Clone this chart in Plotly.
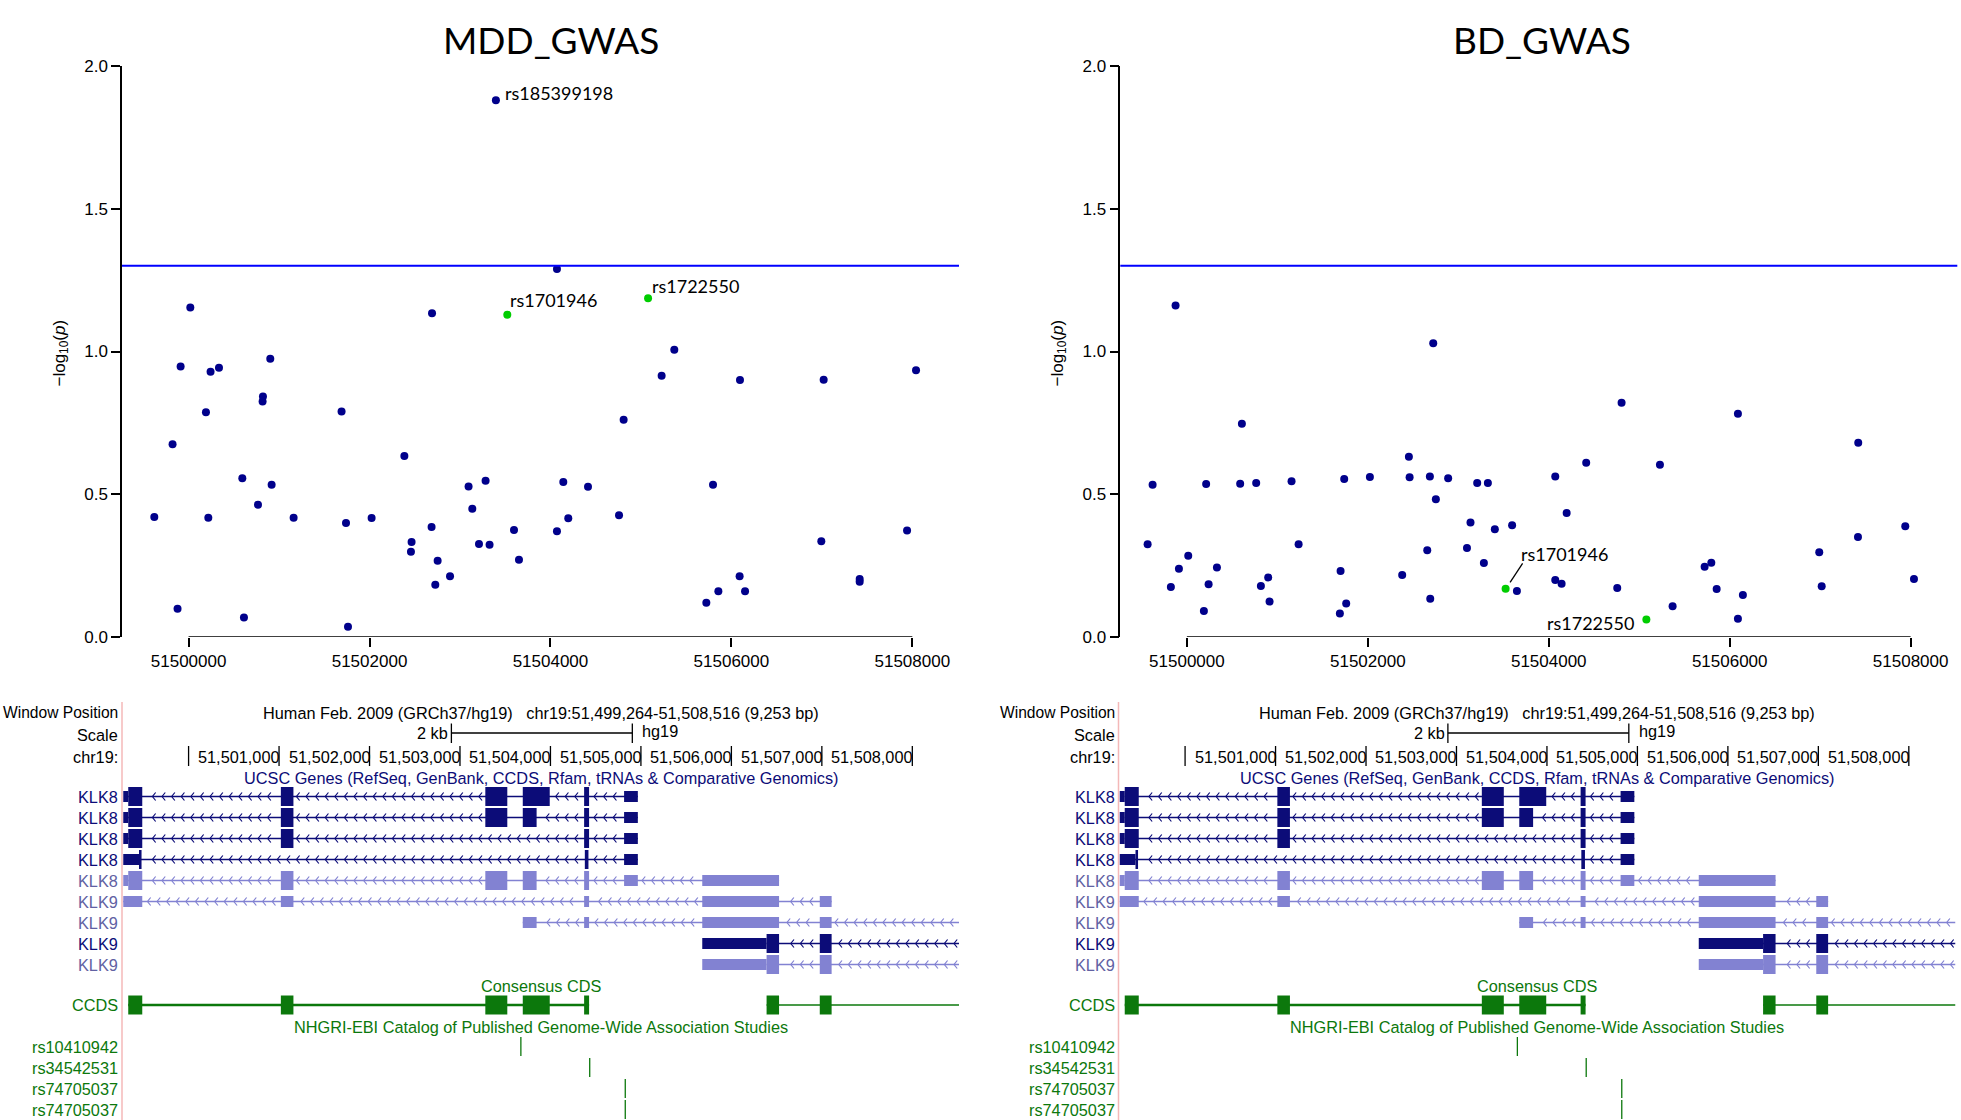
import plotly.graph_objects as go

W, H = 1961, 1120

# ---------------- association data ----------------
window = [51499264, 51508516]
x_ticks = [51500000, 51502000, 51504000, 51506000, 51508000]
y_ticks = [0.0, 0.5, 1.0, 1.5, 2.0]
y_tick_text = ["0.0", "0.5", "1.0", "1.5", "2.0"]
threshold = 1.301  # -log10(0.05)

mdd_pos = [51499621, 51499823, 51499878, 51499912, 51500019, 51500192, 51500218, 51500243, 51500336, 51500594,
           51500612, 51500767, 51500818, 51500822, 51500903, 51500918, 51501161, 51501691, 51501740, 51501762,
           51502023, 51502385, 51502458, 51502465, 51502686, 51502691, 51502727, 51502753, 51502890, 51503095,
           51503136, 51503210, 51503283, 51503327, 51503397, 51503597, 51503652, 51504072, 51504072, 51504142,
           51504197, 51504415, 51504758, 51504809, 51505229, 51505369, 51505723, 51505797, 51505856, 51506091,
           51506095, 51506151, 51506994, 51507020, 51507418, 51507418, 51507942, 51508041]
mdd_logp = [0.420, 0.675, 0.098, 0.947, 1.154, 0.787, 0.417, 0.929, 0.943, 0.556,
            0.067, 0.463, 0.825, 0.842, 0.975, 0.533, 0.417, 0.790, 0.399, 0.035,
            0.416, 0.634, 0.298, 0.332, 0.385, 1.134, 0.182, 0.266, 0.212, 0.527,
            0.449, 0.325, 0.547, 0.322, 1.881, 0.374, 0.270, 1.289, 0.370, 0.542,
            0.415, 0.526, 0.426, 0.761, 0.915, 1.006, 0.119, 0.533, 0.159, 0.212,
            0.900, 0.159, 0.335, 0.901, 0.202, 0.193, 0.372, 0.934]

bd_pos = [51499566, 51499621, 51499823, 51499875, 51499912, 51500015, 51500188, 51500213, 51500240, 51500332,
          51500589, 51500608, 51500766, 51500818, 51500899, 51500914, 51501157, 51501235, 51501691, 51501699,
          51501739, 51501761, 51502023, 51502380, 51502454, 51502462, 51502657, 51502686, 51502690, 51502723,
          51502752, 51502888, 51503096, 51503135, 51503209, 51503283, 51503327, 51503404, 51503595, 51503648,
          51504072, 51504072, 51504142, 51504198, 51504414, 51504757, 51504805, 51505229, 51505369, 51505723,
          51505797, 51505856, 51506091, 51506091, 51506146, 51506990, 51507017, 51507418, 51507421, 51507941,
          51508037]
bd_logp = [0.324, 0.533, 0.174, 1.161, 0.238, 0.284, 0.090, 0.535, 0.184, 0.243,
           0.536, 0.747, 0.539, 0.178, 0.208, 0.123, 0.545, 0.324, 0.081, 0.230,
           0.553, 0.116, 0.560, 0.216, 0.631, 0.559, 0.303, 0.562, 0.133, 1.029,
           0.482, 0.556, 0.311, 0.400, 0.539, 0.258, 0.539, 0.377, 0.391, 0.160,
           0.562, 0.199, 0.186, 0.434, 0.610, 0.171, 0.820, 0.603, 0.107, 0.245,
           0.259, 0.167, 0.782, 0.063, 0.146, 0.296, 0.177, 0.350, 0.680, 0.387,
           0.202]

hl_names = ["rs1701946", "rs1722550"]
hl_pos = [51503523, 51505079]
mdd_hl_logp = [1.129, 1.187]
bd_hl_logp = [0.168, 0.060]

top_name = "rs185399198"
top_pos = 51503397
top_logp = 1.881

# ---------------- genome browser data ----------------
ruler_ticks = [51500000, 51501000, 51502000, 51503000, 51504000, 51505000, 51506000, 51507000, 51508000]
ruler_labels = ["", "51,501,000", "51,502,000", "51,503,000", "51,504,000", "51,505,000",
                "51,506,000", "51,507,000", "51,508,000"]
scale_bar = [51502905, 51504905]

# (label, shade, line start, line end, exons (start, end, kind C=coding/U=utr))
transcripts = [
    ("KLK8", "dark", 51499333, 51504966,
     [(51499278, 51499333, "U"), (51499333, 51499488, "C"), (51501020, 51501159, "C"), (51503280, 51503523, "C"),
      (51503694, 51503992, "C"), (51504372, 51504427, "C"), (51504814, 51504966, "U")]),
    ("KLK8", "dark", 51499333, 51504966,
     [(51499278, 51499333, "U"), (51499333, 51499488, "C"), (51501020, 51501159, "C"), (51503280, 51503523, "C"),
      (51503694, 51503847, "C"), (51504372, 51504427, "C"), (51504814, 51504966, "U")]),
    ("KLK8", "dark", 51499333, 51504966,
     [(51499278, 51499333, "U"), (51499333, 51499488, "C"), (51501020, 51501159, "C"),
      (51504372, 51504427, "C"), (51504814, 51504966, "U")]),
    ("KLK8", "dark", 51499333, 51504966,
     [(51499278, 51499452, "U"), (51499452, 51499480, "C"), (51504380, 51504420, "C"), (51504814, 51504966, "U")]),
    ("KLK8", "light", 51499333, 51506527,
     [(51499278, 51499333, "U"), (51499333, 51499488, "C"), (51501020, 51501159, "C"), (51503280, 51503523, "C"),
      (51503694, 51503847, "C"), (51504372, 51504427, "C"), (51504814, 51504966, "U"), (51505678, 51506527, "U")]),
    ("KLK9", "light", 51499278, 51507108,
     [(51499278, 51499488, "U"), (51501020, 51501159, "U"), (51504372, 51504427, "U"),
      (51505678, 51506527, "U"), (51506977, 51507108, "U")]),
    ("KLK9", "light", 51503694, 51508516,
     [(51503694, 51503847, "U"), (51504372, 51504427, "U"), (51505678, 51506527, "U"), (51506977, 51507108, "U")]),
    ("KLK9", "dark", 51506389, 51508516,
     [(51505678, 51506389, "U"), (51506389, 51506527, "C"), (51506977, 51507108, "C")]),
    ("KLK9", "light", 51506389, 51508516,
     [(51505678, 51506389, "U"), (51506389, 51506527, "C"), (51506977, 51507108, "C")]),
]
ccds_lines = [(51499333, 51504427, 2.6), (51506389, 51508516, 1.4)]
ccds_exons = [(51499333, 51499488), (51501020, 51501159), (51503280, 51503523), (51503694, 51503992),
              (51504372, 51504427), (51506389, 51506527), (51506977, 51507108)]
gwas_names = ["rs10410942", "rs34542531", "rs74705037", "rs74705037"]
gwas_pos = [51503673, 51504434, 51504827, 51504827]

# ---------------- styling ----------------
NAVY = "#00008B"
GREEN = "#00CD00"
GENE_DARK = "#0c0c78"
GENE_LIGHT = "#8282d2"
LABEL_LIGHT = "#6161a3"
CCDS_GREEN = "#0c780c"
TICKFONT = dict(family="Liberation Sans, Arial, sans-serif", size=17, color="black")
BFONT = "Liberation Sans, Arial, sans-serif"
LFONT = "Lato, Open Sans, sans-serif"
BSIZE = 16.3


def px(xp):
    return xp / W


def py(yp):
    return 1 - yp / H


fig = go.Figure()
shapes = []
annotations = []

panels = [
    dict(name="MDD_GWAS", xa="x", ya="y", left=122.0, right=959.0, pos=mdd_pos, val=mdd_logp,
         hl=mdd_hl_logp, title_x=551, ylab_x=60, bxa="x3", bya="y3", bleft=122.0),
    dict(name="BD_GWAS", xa="x2", ya="y2", left=1120.3, right=1957.3, pos=bd_pos, val=bd_logp,
         hl=bd_hl_logp, title_x=1542, ylab_x=1058, bxa="x4", bya="y4", bleft=1118.5),
]

layout_axes = {}
for i, p in enumerate(panels):
    xa, ya = p["xa"], p["ya"]
    xkey = "xaxis" if xa == "x" else "xaxis" + xa[1:]
    ykey = "yaxis" if ya == "y" else "yaxis" + ya[1:]
    layout_axes[xkey] = dict(domain=[px(p["left"]), px(p["right"])], range=window, anchor=ya,
                             showline=False, showgrid=False, zeroline=False, ticks="outside",
                             ticklen=9, tickwidth=1.5, tickcolor="black", tickvals=x_ticks,
                             ticktext=[str(t) for t in x_ticks], tickfont=TICKFONT, fixedrange=True,
                             automargin=False)
    layout_axes[ykey] = dict(domain=[py(636.7), py(66.3)], range=[0, 2], anchor=xa,
                             showline=True, linecolor="black", linewidth=1.5, showgrid=False,
                             zeroline=False, ticks="outside", ticklen=9, tickwidth=1.5, tickcolor="black",
                             tickvals=y_ticks, ticktext=y_tick_text, tickfont=TICKFONT, fixedrange=True,
                             automargin=False)

    fig.add_trace(go.Scatter(x=p["pos"], y=p["val"], mode="markers", xaxis=xa, yaxis=ya,
                             marker=dict(size=8, color=NAVY), hoverinfo="skip", showlegend=False,
                             cliponaxis=False))
    fig.add_trace(go.Scatter(x=hl_pos, y=p["hl"], mode="markers", xaxis=xa, yaxis=ya,
                             marker=dict(size=8, color=GREEN), hoverinfo="skip", showlegend=False,
                             cliponaxis=False))

    # threshold line
    shapes.append(dict(type="line", xref=xa + " domain", yref=ya, x0=0, x1=1, y0=threshold, y1=threshold,
                       line=dict(color="#0000FF", width=2)))
    # R-style x axis line between first and last tick
    shapes.append(dict(type="line", xref=xa, yref=ya, x0=x_ticks[0], x1=x_ticks[-1], y0=0, y1=0,
                       line=dict(color="black", width=1.5)))

    annotations.append(dict(text=p["name"], xref="paper", yref="paper", x=px(p["title_x"]), y=py(40),
                            xanchor="center", yanchor="middle", showarrow=False,
                            font=dict(family=LFONT, size=37, color="black")))
    annotations.append(dict(text="\u2212log<sub>10</sub>(<i>p</i>)", xref="paper", yref="paper",
                            x=px(p["ylab_x"]), y=py(353.5), xanchor="center", yanchor="middle",
                            textangle=-90, showarrow=False,
                            font=dict(family=BFONT, size=17, color="black")))

# SNP labels
lab_font = dict(family=LFONT, size=18, color="black")
annotations.append(dict(text=top_name, xref="x", yref="y", x=top_pos, y=top_logp, xanchor="left",
                        yanchor="middle", xshift=7, yshift=7, showarrow=False, font=lab_font))
annotations.append(dict(text=hl_names[0], xref="x", yref="y", x=hl_pos[0], y=mdd_hl_logp[0], xanchor="left",
                        yanchor="middle", xshift=1, yshift=15, showarrow=False, font=lab_font))
annotations.append(dict(text=hl_names[1], xref="x", yref="y", x=hl_pos[1], y=mdd_hl_logp[1], xanchor="left",
                        yanchor="middle", xshift=2, yshift=12, showarrow=False, font=lab_font))
annotations.append(dict(text=hl_names[0], xref="x2", yref="y2", x=hl_pos[0], y=bd_hl_logp[0], xanchor="left",
                        yanchor="middle", xshift=13, yshift=35, showarrow=False, font=lab_font))
annotations.append(dict(text=hl_names[1], xref="x2", yref="y2", x=hl_pos[1], y=bd_hl_logp[1], xanchor="right",
                        yanchor="middle", xshift=-10, yshift=-3, showarrow=False, font=lab_font))
shapes.append(dict(type="line", xref="x2", yref="y2", xsizemode="pixel", ysizemode="pixel",
                   xanchor=hl_pos[0], yanchor=bd_hl_logp[0], x0=4.5, x1=17, y0=6.5, y1=25.5,
                   line=dict(color="black", width=1.3)))

# ---------------- genome browser panels ----------------
ROW0, ROWSTEP = 796.5, 21.0
CCDS_Y = 1005.0
GWAS0 = 1046.5
BP_PER_PX = (window[1] - window[0]) / 837.0

for p in panels:
    bxa, bya, bleft = p["bxa"], p["bya"], p["bleft"]
    xkey = "xaxis" + bxa[1:]
    ykey = "yaxis" + bya[1:]
    layout_axes[xkey] = dict(domain=[px(bleft), px(bleft + 837)], range=window, visible=False,
                             anchor=bya, fixedrange=True, automargin=False)
    layout_axes[ykey] = dict(domain=[0, py(690)], range=[1120, 690], visible=False, anchor=bxa,
                             fixedrange=True, automargin=False)
    lab_x = px(bleft - 2)

    def ann(text, x, y, xref, anchor, color="black", size=BSIZE, xshift=0):
        annotations.append(dict(text=text, xref=xref, yref=bya, x=x, y=y, xanchor=anchor, yanchor="middle",
                                showarrow=False, xshift=xshift,
                                font=dict(family=BFONT, size=size, color=color)))

    # pink separator
    shapes.append(dict(type="line", xref="paper", yref=bya, x0=px(bleft), x1=px(bleft), y0=702, y1=1120,
                       line=dict(color="#f4b8b8", width=1.5)))
    ann("Window Position", lab_x, 712.5, "paper", "right", size=15.6)
    ann("Human Feb. 2009 (GRCh37/hg19)\u00a0\u00a0\u00a0chr19:51,499,264-51,508,516 (9,253 bp)",
        0.5, 712.5, bxa + " domain", "center")
    ann("Scale", lab_x, 735, "paper", "right")
    ann("2 kb", scale_bar[0], 733, bxa, "right", xshift=-1)
    ann("hg19", scale_bar[1], 730.5, bxa, "left", xshift=8)
    shapes.append(dict(type="line", xref=bxa, yref=bya, x0=scale_bar[0], x1=scale_bar[1], y0=733, y1=733,
                       line=dict(color="black", width=1.5)))
    for sb in scale_bar:
        shapes.append(dict(type="line", xref=bxa, yref=bya, x0=sb, x1=sb, y0=723.5, y1=743,
                           line=dict(color="black", width=1.3)))
    ann("chr19:", lab_x, 757, "paper", "right")
    for t, lab in zip(ruler_ticks, ruler_labels):
        shapes.append(dict(type="line", xref=bxa, yref=bya, x0=t, x1=t, y0=746, y1=766,
                           line=dict(color="black", width=1.3)))
        if lab:
            ann(lab, t, 757, bxa, "right", xshift=3)
    ann("UCSC Genes (RefSeq, GenBank, CCDS, Rfam, tRNAs &amp; Comparative Genomics)", 0.5, 777.5,
        bxa + " domain", "center", color=GENE_DARK)

    chev = {"dark": ([], []), "light": ([], [])}
    for r, (name, shade, ls, le, exons) in enumerate(transcripts):
        yc = ROW0 + r * ROWSTEP
        col = GENE_DARK if shade == "dark" else GENE_LIGHT
        ann(name, lab_x, yc, "paper", "right", color=GENE_DARK if shade == "dark" else LABEL_LIGHT)
        shapes.append(dict(type="line", xref=bxa, yref=bya, x0=ls, x1=le, y0=yc, y1=yc, layer="below",
                           line=dict(color=col, width=1.6)))
        for (s, e, k) in exons:
            hh = 9.5 if k == "C" else 5.5
            shapes.append(dict(type="rect", xref=bxa, yref=bya, x0=s, x1=e, y0=yc - hh, y1=yc + hh,
                               fillcolor=col, line=dict(width=0)))
        # intron chevrons (strand direction glyphs)
        step = 9.6 * BP_PER_PX
        c = ls + 5 * BP_PER_PX
        xs, ys = chev[shade]
        while c < le - 5 * BP_PER_PX:
            if all(c + 4 * BP_PER_PX < s - 2 * BP_PER_PX or c > e + 3 * BP_PER_PX for (s, e, k) in exons):
                xs += [c + 3.2 * BP_PER_PX, c, c + 3.2 * BP_PER_PX, None]
                ys += [yc - 4, yc, yc + 4, None]
            c += step
    for shade, (xs, ys) in chev.items():
        fig.add_trace(go.Scatter(x=xs, y=ys, mode="lines", xaxis=bxa, yaxis=bya, hoverinfo="skip",
                                 showlegend=False,
                                 line=dict(color=GENE_DARK if shade == "dark" else GENE_LIGHT, width=1.2)))

    ann("Consensus CDS", 0.5, 986, bxa + " domain", "center", color=CCDS_GREEN)
    ann("CCDS", lab_x, CCDS_Y, "paper", "right", color=CCDS_GREEN)
    for (s, e, wdt) in ccds_lines:
        shapes.append(dict(type="line", xref=bxa, yref=bya, x0=s, x1=e, y0=CCDS_Y, y1=CCDS_Y, layer="below",
                           line=dict(color=CCDS_GREEN, width=wdt)))
    for (s, e) in ccds_exons:
        shapes.append(dict(type="rect", xref=bxa, yref=bya, x0=s, x1=e, y0=CCDS_Y - 9.5, y1=CCDS_Y + 9.5,
                           fillcolor=CCDS_GREEN, line=dict(width=0)))
    ann("NHGRI-EBI Catalog of Published Genome-Wide Association Studies", 0.5, 1027.3, bxa + " domain",
        "center", color=CCDS_GREEN)
    for j, (nm, gp) in enumerate(zip(gwas_names, gwas_pos)):
        yc = GWAS0 + j * ROWSTEP
        ann(nm, lab_x, yc, "paper", "right", color=CCDS_GREEN)
        shapes.append(dict(type="line", xref=bxa, yref=bya, x0=gp, x1=gp, y0=yc - 9.5, y1=yc + 9.5,
                           line=dict(color=CCDS_GREEN, width=1.3)))

fig.update_layout(
    width=W, height=H, margin=dict(l=0, r=0, t=0, b=0, pad=0, autoexpand=False),
    plot_bgcolor="white", paper_bgcolor="white",
    showlegend=False, hovermode=False, shapes=shapes, annotations=annotations,
    font=dict(family=BFONT, color="black"), **layout_axes)

fig.write_html("out.html", config={"displayModeBar": False},
               post_script="document.body.style.margin='0';document.body.style.padding='0';"
                           "document.documentElement.style.overflow='hidden';")
